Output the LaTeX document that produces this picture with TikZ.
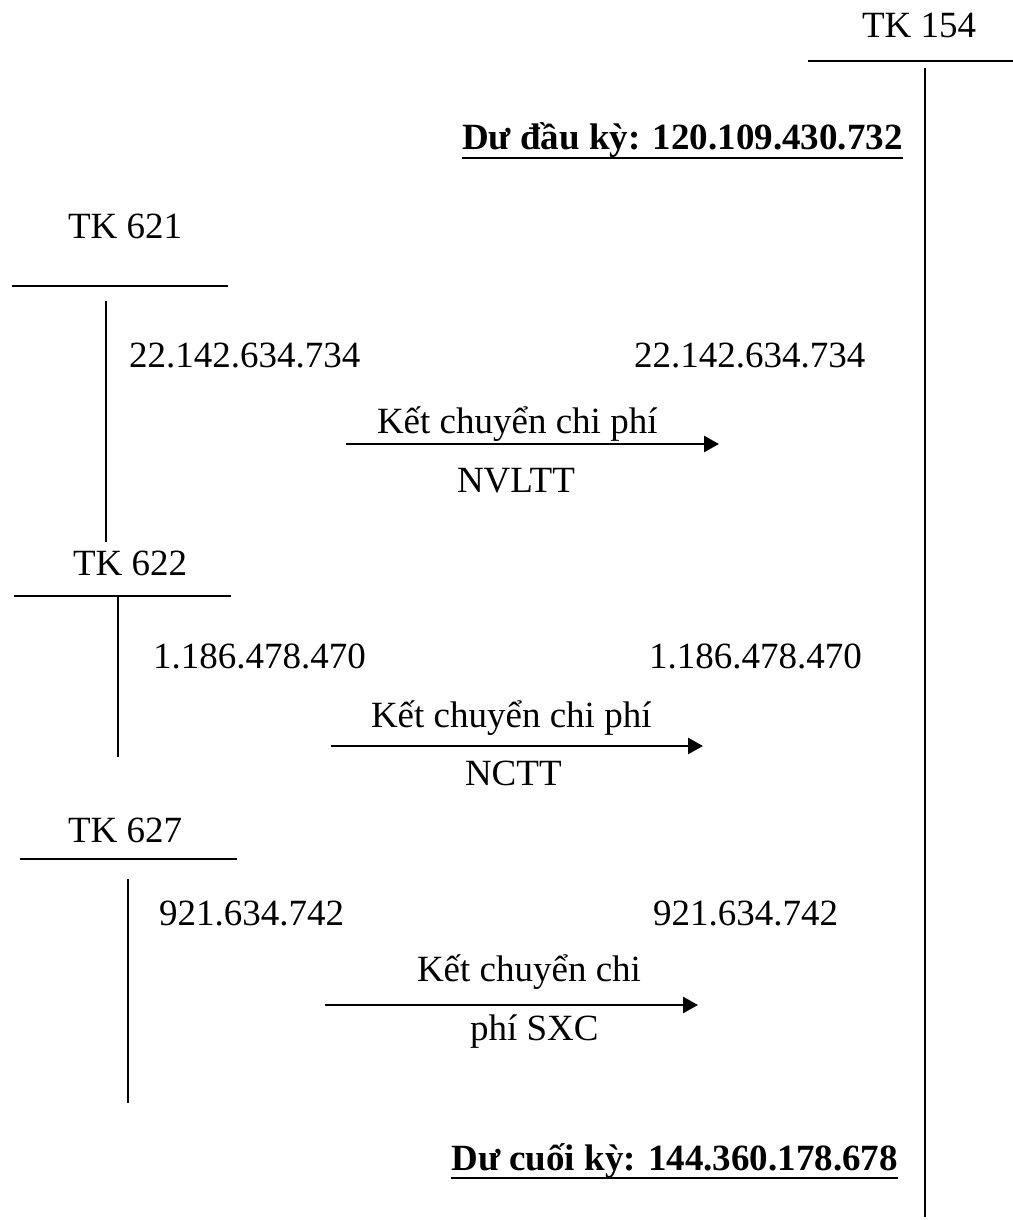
\documentclass[tikz,border=0pt]{standalone}
\usepackage{fontspec}
\setmainfont{Liberation Serif}
\usetikzlibrary{arrows.meta,calc}
\begin{document}
\begin{tikzpicture}[x=0.75pt,y=-0.75pt,
  txt/.style={inner sep=0pt,outer sep=0pt,font=\fontsize{27.75}{33}\selectfont},
  lbl/.style={txt,anchor=base west},
  total/.style={txt,font=\fontsize{27.75}{33}\selectfont\bfseries},
  rule/.style={line width=1.4pt},
  flow/.style={line width=2pt,-{Triangle[length=11.25pt,width=12pt]}}]
\useasboundingbox (0,0) rectangle (1013,1220);

% account TK 154
\node[lbl] (t154) at (862,38) {TK 154};
\coordinate (h154a) at (808,61);
\coordinate (h154b) at (1013,61);
\coordinate (v154a) at (925,68);
\coordinate (v154b) at (925,1217);
\draw[rule] (h154a) -- (h154b);
\draw[rule] (v154a) -- (v154b);

% opening balance
\node[total,anchor=base west] (open) at (462,150) {Dư đầu kỳ: 120.109.430.732};
\draw[line width=2.2pt] ($(open.base west)+(0,8)$) -- ($(open.base east)+(0,8)$);

% account TK 621
\node[lbl] (t621) at (68,238) {TK 621};
\coordinate (h621a) at (12,286);
\coordinate (h621b) at (228,286);
\coordinate (v621a) at (106,301);
\coordinate (v621b) at (106,542);
\draw[rule] (h621a) -- (h621b);
\draw[rule] (v621a) -- (v621b);
\node[lbl] (a621) at (129,367) {22.142.634.734};
\node[lbl] (b621) at (634,367) {22.142.634.734};
\node[lbl] (k621) at (377,433) {Kết chuyển chi phí};
\node[lbl] (n621) at (457,492) {NVLTT};
\coordinate (f621a) at (346,444);
\coordinate (f621b) at (719,444);
\draw[flow] (f621a) -- (f621b);

% account TK 622
\node[lbl] (t622) at (73,575) {TK 622};
\coordinate (h622a) at (14,596);
\coordinate (h622b) at (231,596);
\coordinate (v622a) at (118,597);
\coordinate (v622b) at (118,757);
\draw[rule] (h622a) -- (h622b);
\draw[rule] (v622a) -- (v622b);
\node[lbl] (a622) at (153,668) {1.186.478.470};
\node[lbl] (b622) at (649,668) {1.186.478.470};
\node[lbl] (k622) at (371,727) {Kết chuyển chi phí};
\node[lbl] (n622) at (465,785) {NCTT};
\coordinate (f622a) at (331,746);
\coordinate (f622b) at (703,746);
\draw[flow] (f622a) -- (f622b);

% account TK 627
\node[lbl] (t627) at (68,842) {TK 627};
\coordinate (h627a) at (20,859);
\coordinate (h627b) at (237,859);
\coordinate (v627a) at (128,879);
\coordinate (v627b) at (128,1103);
\draw[rule] (h627a) -- (h627b);
\draw[rule] (v627a) -- (v627b);
\node[lbl] (a627) at (159,925) {921.634.742};
\node[lbl] (b627) at (653,925) {921.634.742};
\node[lbl] (k627) at (417,981) {Kết chuyển chi};
\node[lbl] (n627) at (470,1040) {phí SXC};
\coordinate (f627a) at (325,1005);
\coordinate (f627b) at (698,1005);
\draw[flow] (f627a) -- (f627b);

% closing balance
\node[total,anchor=base east] (close) at (898,1170) {Dư cuối kỳ: 144.360.178.678};
\draw[line width=2.2pt] ($(close.base west)+(0,8)$) -- ($(close.base east)+(0,8)$);
\end{tikzpicture}
\end{document}
